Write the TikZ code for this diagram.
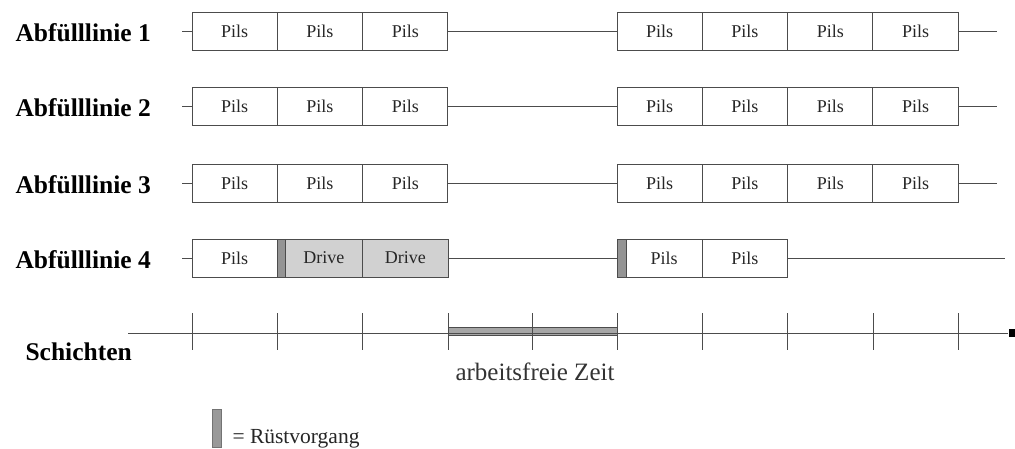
\documentclass[tikz,border=0pt]{standalone}
\usepackage{fontspec}
\setmainfont{Liberation Serif}
\begin{document}
\begin{tikzpicture}[x=1pt,y=-1pt,
  lane/.style={draw=black!70, line width=1pt},
  slot/.style={draw=black!70, line width=1pt, inner sep=0pt,
    minimum height=38pt, text=black!85, font=\fontsize{18}{18}\selectfont},
  pils/.style={slot, minimum width=85.3pt},
  drive/.style={slot, fill=black!18},
  setup/.style={draw=black!70, fill=black!42, line width=1pt, inner sep=0pt,
    minimum height=38pt},
  linelabel/.style={anchor=base west, font=\fontsize{25.5}{25.5}\selectfont\bfseries},
  tick/.style={draw=black!70, line width=1pt}
]
\useasboundingbox (0,0) rectangle (1015,448);
\clip (0,0) rectangle (1015,448);

% filling lines 1 to 3: three shifts, idle weekend, four shifts
\foreach \r/\c in {1/31, 2/106, 3/183} {
  \node[linelabel] (lab\r) at (12,\c+10.5) {Abfülllinie \r};
  \coordinate (s\r) at (182,\c);
  \coordinate (e\r) at (997,\c);
  \node[pils] (p\r a) at (234.65,\c) {Pils};
  \node[pils] (p\r b) at (319.95,\c) {Pils};
  \node[pils] (p\r c) at (405.3,\c) {Pils};
  \node[pils] (p\r d) at (659.65,\c) {Pils};
  \node[pils] (p\r e) at (744.95,\c) {Pils};
  \node[pils] (p\r f) at (830.3,\c) {Pils};
  \node[pils] (p\r g) at (915.6,\c) {Pils};
  \draw[lane] (s\r) -- (p\r a.west);
  \draw[lane] (p\r c.east) -- (p\r d.west);
  \draw[lane] (p\r g.east) -- (e\r);
}

% filling line 4 with changeovers
\node[linelabel] (lab4) at (12,268.5) {Abfülllinie 4};
\coordinate (s4) at (182,258);
\coordinate (e4) at (1005,258);
\node[pils] (p4a) at (234.65,258) {Pils};
\node[setup, minimum width=8pt] (u4a) at (281.3,258) {};
\node[drive, minimum width=77.3pt] (p4b) at (323.95,258) {Drive};
\node[drive, minimum width=85.4pt] (p4c) at (405.3,258) {Drive};
\node[setup, minimum width=9pt] (u4b) at (621.5,258) {};
\node[slot, minimum width=76.3pt] (p4d) at (664.15,258) {Pils};
\node[pils] (p4e) at (744.95,258) {Pils};
\draw[lane] (s4) -- (p4a.west);
\draw[lane] (p4c.east) -- (u4b.west);
\draw[lane] (p4e.east) -- (e4);

% shift axis
\node[linelabel] (shifts) at (22,360) {Schichten};
\node[draw=black!70, fill=black!35, line width=1pt, inner sep=0pt,
  minimum width=169pt, minimum height=8pt] (free) at (532.5,331) {};
\coordinate (ax0) at (128,333);
\node[fill=black, inner sep=0pt, minimum width=7pt, minimum height=8pt] (ax1) at (1012,333) {};
\draw[lane] (ax0) -- (ax1);
\foreach \x in {192, 277.3, 362.6, 448, 532.5, 617, 702.3, 787.6, 873, 958.3}
  \draw[tick] (\x,313) -- (\x,350);
\node[anchor=base, text=black!80, font=\fontsize{25}{25}\selectfont]
  (freelab) at (535,380) {arbeitsfreie Zeit};

% legend
\node[draw=black!55, fill=black!40, line width=0.8pt, inner sep=0pt,
  minimum width=9pt, minimum height=38pt] (legbar) at (216.5,428) {};
\node[anchor=base west, text=black!85, font=\fontsize{21.5}{21.5}\selectfont]
  (leglab) at (229,443) {= Rüstvorgang};
\end{tikzpicture}
\end{document}
